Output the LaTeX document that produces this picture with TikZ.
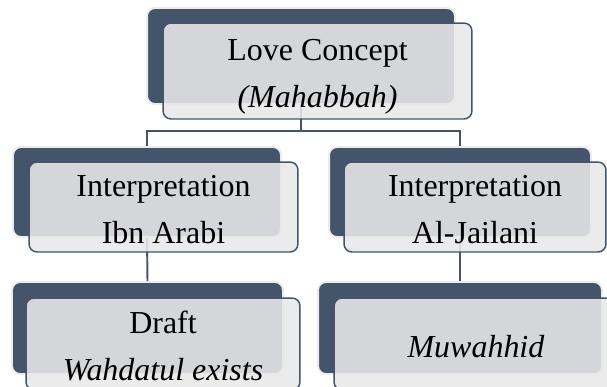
\documentclass[tikz,border=0pt]{standalone}
\usepackage{fontspec}
\setmainfont{Liberation Serif}
\usepackage{xcolor}
\usepackage{tikz}
\definecolor{slate}{HTML}{44546A}
\definecolor{boxgray}{HTML}{E8E8E9}
\newcommand{\lifttext}[1]{\rule{0pt}{#1}}

\begin{document}
\begin{tikzpicture}[x=0.02cm,y=-0.02cm]
\tikzstyle{every node}+=[inner sep=0pt]
\tikzstyle{backbox}=[fill=slate, draw=black!8, line width=1.1pt, rounded corners=0.16cm]
\tikzstyle{frontbox}=[fill=boxgray, fill opacity=0.88, text opacity=1, draw=slate, line width=0.85pt, rounded corners=0.16cm, align=center, font=\fontsize{18.2}{26.75}\selectfont]
\tikzstyle{link}=[draw=slate, line width=1.1pt]
\useasboundingbox (0,0) rectangle (607,386);
% back layer
\node [backbox, minimum width=6.16cm, minimum height=1.92cm] (loveBack) at (301,56) {};
\node [backbox, minimum width=5.36cm, minimum height=1.80cm] (ibnBack) at (147,192) {};
\node [backbox, minimum width=5.24cm, minimum height=1.80cm] (jaiBack) at (460,192) {};
\node [backbox, minimum width=5.42cm, minimum height=1.84cm] (draftBack) at (147.5,328) {};
\node [backbox, minimum width=5.68cm, minimum height=1.84cm] (muwBack) at (460,328) {};
% connectors
\coordinate (bus) at (301,131);
\draw [link] (loveBack.south) -- (bus) -| (ibnBack.north);
\draw [link] (bus) -| (jaiBack.north);
\draw [link] (ibnBack.south) -- (draftBack.north);
\draw [link] (jaiBack.south) -- (muwBack.north);
% front layer
\node [frontbox, minimum width=6.18cm, minimum height=1.92cm] (loveFront) at (317.5,71) {\lifttext{0.64cm}Love Concept\\\textit{(Mahabbah)}};
\node [frontbox, minimum width=5.38cm, minimum height=1.80cm] (ibnFront) at (163.5,207) {\lifttext{0.54cm}Interpretation\\Ibn Arabi};
\node [frontbox, minimum width=5.24cm, minimum height=1.80cm] (jaiFront) at (475,207) {\lifttext{0.54cm}Interpretation\\Al-Jailani};
\node [frontbox, minimum width=5.48cm, minimum height=1.84cm] (draftFront) at (163,344) {\lifttext{0.54cm}Draft\\\textit{Wahdatul exists}};
\node [frontbox, minimum width=5.68cm, minimum height=1.84cm] (muwFront) at (476,344) {\lifttext{0.54cm}\textit{Muwahhid}};
\end{tikzpicture}
\end{document}
